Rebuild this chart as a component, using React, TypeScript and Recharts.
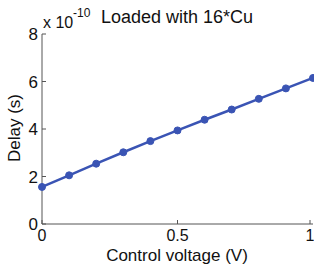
import React from 'react';
import { LineChart, Line, XAxis, YAxis } from 'recharts';

const voltages = [0, 0.1, 0.2, 0.3, 0.4, 0.5, 0.6, 0.7, 0.8, 0.9, 1.0];
const delays = [1.56, 2.05, 2.54, 3.02, 3.49, 3.94, 4.39, 4.82, 5.27, 5.71, 6.15];
const xTicks = [0, 0.5, 1];
const yTicks = [0, 2, 4, 6, 8];
const titleText = 'Loaded with 16*Cu';
const xLabel = 'Control voltage (V)';
const yLabel = 'Delay (s)';
const expBase = 'x 10';
const expPower = '-10';

const data = voltages.map((v, i) => ({ v, d: delays[i] }));

const FONT = '"Liberation Sans", Arial, sans-serif';
const AX = '#555';
const TXT = '#111';
const LINE = '#3a54b4';
const TL = 4;

const BottomTick = (p: any) => (
  <g>
    <line x1={p.x} y1={p.y} x2={p.x} y2={p.y - TL} stroke={AX} />
    <text x={p.x} y={p.y + 17} textAnchor="middle" fontSize={16} fontFamily={FONT} fill={TXT}>
      {p.payload.value}
    </text>
  </g>
);
const TopTick = (p: any) => (
  <line x1={p.x} y1={p.y} x2={p.x} y2={p.y + TL} stroke={AX} />
);
const LeftTick = (p: any) => (
  <g>
    <line x1={p.x} y1={p.y} x2={p.x + TL} y2={p.y} stroke={AX} />
    <text x={p.x - 4} y={p.y + 6} textAnchor="end" fontSize={17} fontFamily={FONT} fill={TXT}>
      {p.payload.value}
    </text>
  </g>
);
const RightTick = (p: any) => (
  <line x1={p.x} y1={p.y} x2={p.x - TL} y2={p.y} stroke={AX} />
);

export default function App() {
  return (
    <div style={{ position: 'absolute', left: 0, top: 0, width: 314, height: 265, background: '#fff' }}>
      <LineChart width={314} height={265} data={data} margin={{ top: 34, right: 1, bottom: 0, left: 0 }}>
        <XAxis
          dataKey="v"
          type="number"
          domain={[0, 1]}
          ticks={xTicks}
          xAxisId="b"
          orientation="bottom"
          height={41}
          tickSize={0}
          tickMargin={0}
          tickLine={false}
          tick={<BottomTick />}
          axisLine={{ stroke: AX }}
        />
        <XAxis
          type="number"
          domain={[0, 1]}
          ticks={xTicks}
          xAxisId="t"
          orientation="top"
          height={0}
          tickSize={0}
          tickMargin={0}
          tickLine={false}
          tick={<TopTick />}
          axisLine={{ stroke: AX }}
        />
        <YAxis
          type="number"
          domain={[0, 8]}
          ticks={yTicks}
          yAxisId="l"
          orientation="left"
          width={42}
          tickSize={0}
          tickMargin={0}
          tickLine={false}
          tick={<LeftTick />}
          axisLine={{ stroke: AX }}
        />
        <YAxis
          type="number"
          domain={[0, 8]}
          ticks={yTicks}
          yAxisId="r"
          orientation="right"
          width={0}
          tickSize={0}
          tickMargin={0}
          tickLine={false}
          tick={<RightTick />}
          axisLine={{ stroke: AX }}
        />
        <Line
          xAxisId="b"
          yAxisId="l"
          dataKey="d"
          stroke={LINE}
          strokeWidth={2.5}
          dot={{ r: 3.5, fill: LINE, stroke: LINE, strokeWidth: 1 }}
          isAnimationActive={false}
        />
      </LineChart>
      <svg width={314} height={265} style={{ position: 'absolute', left: 0, top: 0, pointerEvents: 'none' }}>
        <text x={43} y={28} fontSize={16} fontFamily={FONT} fill={TXT}>{expBase}</text>
        <text x={73} y={17} fontSize={12} fontFamily={FONT} fill={TXT}>{expPower}</text>
        <text x={101} y={23} fontSize={18} fontFamily={FONT} fill={TXT}>{titleText}</text>
        <text x={177} y={261} textAnchor="middle" fontSize={17} fontFamily={FONT} fill={TXT}>{xLabel}</text>
        <text x={20} y={128} transform="rotate(-90 20 128)" textAnchor="middle" fontSize={17} fontFamily={FONT} fill={TXT}>{yLabel}</text>
      </svg>
    </div>
  );
}
